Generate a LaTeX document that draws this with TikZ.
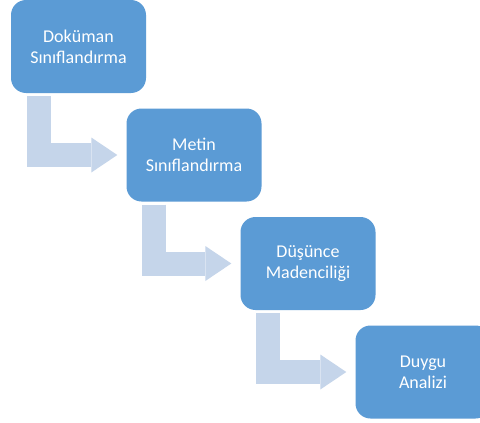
\documentclass[tikz,border=0pt]{standalone}
\usepackage{fontspec}
\setmainfont{Carlito}
\usepackage{tikz}
\usetikzlibrary{arrows.meta,calc}
\definecolor{stepblue}{RGB}{91,155,213}
\definecolor{arrowblue}{RGB}{197,213,234}

\tikzset{
  stepbox/.style={fill=stepblue,rounded corners=15pt,minimum width=135pt,minimum height=93pt,
    text=white,align=center,font=\fontsize{18}{21}\selectfont,inner sep=0pt},
  bentarrow/.style={draw=arrowblue,line width=24pt,line join=miter,
    -{Triangle[length=26pt,width=35pt,line width=0pt]}}
}

\begin{document}
\begin{tikzpicture}[x=1pt,y=-1pt]
\useasboundingbox (0,0) rectangle (480,423);
\fill[white] (0,0) rectangle (480,423);
% Adımlar
\node[stepbox] (doc) at (78.5,46.5) {Doküman\\Sınıflandırma};
\node[stepbox] (metin) at (194,155) {Metin\\Sınıflandırma};
\node[stepbox] (dusunce) at (308,263.5) {Düşünce\\Madenciliği};
\node[stepbox] (duygu) at (423,372) {Duygu\\Analizi};
% Oklar
\draw[bentarrow] ($(doc.south west)+(28,3)$) |- ($(metin.west)+(-9,0)$);
\draw[bentarrow] ($(metin.south west)+(28,3)$) |- ($(dusunce.west)+(-9,0)$);
\draw[bentarrow] ($(dusunce.south west)+(28,3)$) |- ($(duygu.west)+(-9,0)$);
\end{tikzpicture}
\end{document}
